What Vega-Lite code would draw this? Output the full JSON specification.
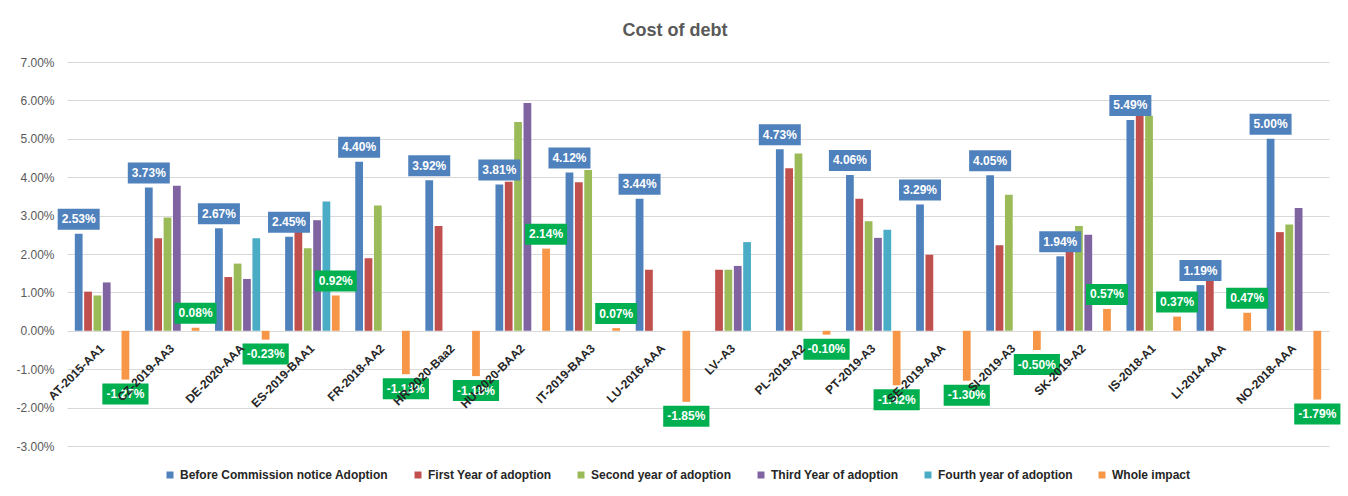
{
  "$schema": "https://vega.github.io/schema/vega-lite/v6.json",
  "autosize": "none",
  "width": 1262,
  "height": 384,
  "padding": {"left": 67, "top": 62, "right": 19, "bottom": 50},
  "background": "white",
  "config": {"font": "Liberation Sans", "view": {"stroke": null},
    "locale": {"number": {"decimal": ".", "thousands": ",", "grouping": [3], "currency": ["$", ""], "minus": "-"}}},
  "title": {"text": "Cost of debt", "anchor": "middle", "dx": -23, "fontSize": 18, "fontWeight": "bold", "color": "#595959", "offset": 16},
  "data": {"values": [
    {"country": "AT-2015-AA1", "series": "Before Commission notice Adoption", "value": 0.0253},
    {"country": "AT-2015-AA1", "series": "First Year of adoption", "value": 0.0102},
    {"country": "AT-2015-AA1", "series": "Second year of adoption", "value": 0.0092},
    {"country": "AT-2015-AA1", "series": "Third Year of adoption", "value": 0.0126},
    {"country": "AT-2015-AA1", "series": "Whole impact", "value": -0.0127},
    {"country": "CZ-2019-AA3", "series": "Before Commission notice Adoption", "value": 0.0373},
    {"country": "CZ-2019-AA3", "series": "First Year of adoption", "value": 0.0241},
    {"country": "CZ-2019-AA3", "series": "Second year of adoption", "value": 0.0295},
    {"country": "CZ-2019-AA3", "series": "Third Year of adoption", "value": 0.0378},
    {"country": "CZ-2019-AA3", "series": "Whole impact", "value": 0.0008},
    {"country": "DE-2020-AAA", "series": "Before Commission notice Adoption", "value": 0.0267},
    {"country": "DE-2020-AAA", "series": "First Year of adoption", "value": 0.0140},
    {"country": "DE-2020-AAA", "series": "Second year of adoption", "value": 0.0175},
    {"country": "DE-2020-AAA", "series": "Third Year of adoption", "value": 0.0135},
    {"country": "DE-2020-AAA", "series": "Fourth year of adoption", "value": 0.0241},
    {"country": "DE-2020-AAA", "series": "Whole impact", "value": -0.0023},
    {"country": "ES-2019-BAA1", "series": "Before Commission notice Adoption", "value": 0.0245},
    {"country": "ES-2019-BAA1", "series": "First Year of adoption", "value": 0.0265},
    {"country": "ES-2019-BAA1", "series": "Second year of adoption", "value": 0.0215},
    {"country": "ES-2019-BAA1", "series": "Third Year of adoption", "value": 0.0288},
    {"country": "ES-2019-BAA1", "series": "Fourth year of adoption", "value": 0.0337},
    {"country": "ES-2019-BAA1", "series": "Whole impact", "value": 0.0092},
    {"country": "FR-2018-AA2", "series": "Before Commission notice Adoption", "value": 0.0440},
    {"country": "FR-2018-AA2", "series": "First Year of adoption", "value": 0.0189},
    {"country": "FR-2018-AA2", "series": "Second year of adoption", "value": 0.0326},
    {"country": "FR-2018-AA2", "series": "Whole impact", "value": -0.0113},
    {"country": "HR-2020-Baa2", "series": "Before Commission notice Adoption", "value": 0.0392},
    {"country": "HR-2020-Baa2", "series": "First Year of adoption", "value": 0.0273},
    {"country": "HR-2020-Baa2", "series": "Whole impact", "value": -0.0118},
    {"country": "HU-2020-BAA2", "series": "Before Commission notice Adoption", "value": 0.0381},
    {"country": "HU-2020-BAA2", "series": "First Year of adoption", "value": 0.0388},
    {"country": "HU-2020-BAA2", "series": "Second year of adoption", "value": 0.0544},
    {"country": "HU-2020-BAA2", "series": "Third Year of adoption", "value": 0.0593},
    {"country": "HU-2020-BAA2", "series": "Whole impact", "value": 0.0214},
    {"country": "IT-2019-BAA3", "series": "Before Commission notice Adoption", "value": 0.0412},
    {"country": "IT-2019-BAA3", "series": "First Year of adoption", "value": 0.0387},
    {"country": "IT-2019-BAA3", "series": "Second year of adoption", "value": 0.0419},
    {"country": "IT-2019-BAA3", "series": "Whole impact", "value": 0.0007},
    {"country": "LU-2016-AAA", "series": "Before Commission notice Adoption", "value": 0.0344},
    {"country": "LU-2016-AAA", "series": "First Year of adoption", "value": 0.0159},
    {"country": "LU-2016-AAA", "series": "Whole impact", "value": -0.0185},
    {"country": "LV--A3", "series": "First Year of adoption", "value": 0.0159},
    {"country": "LV--A3", "series": "Second year of adoption", "value": 0.0159},
    {"country": "LV--A3", "series": "Third Year of adoption", "value": 0.0169},
    {"country": "LV--A3", "series": "Fourth year of adoption", "value": 0.0231},
    {"country": "PL-2019-A2", "series": "Before Commission notice Adoption", "value": 0.0473},
    {"country": "PL-2019-A2", "series": "First Year of adoption", "value": 0.0423},
    {"country": "PL-2019-A2", "series": "Second year of adoption", "value": 0.0462},
    {"country": "PL-2019-A2", "series": "Whole impact", "value": -0.0010},
    {"country": "PT-2019-A3", "series": "Before Commission notice Adoption", "value": 0.0406},
    {"country": "PT-2019-A3", "series": "First Year of adoption", "value": 0.0344},
    {"country": "PT-2019-A3", "series": "Second year of adoption", "value": 0.0285},
    {"country": "PT-2019-A3", "series": "Third Year of adoption", "value": 0.0242},
    {"country": "PT-2019-A3", "series": "Fourth year of adoption", "value": 0.0263},
    {"country": "PT-2019-A3", "series": "Whole impact", "value": -0.0142},
    {"country": "SE-2019-AAA", "series": "Before Commission notice Adoption", "value": 0.0329},
    {"country": "SE-2019-AAA", "series": "First Year of adoption", "value": 0.0198},
    {"country": "SE-2019-AAA", "series": "Whole impact", "value": -0.0130},
    {"country": "SI-2019-A3", "series": "Before Commission notice Adoption", "value": 0.0405},
    {"country": "SI-2019-A3", "series": "First Year of adoption", "value": 0.0223},
    {"country": "SI-2019-A3", "series": "Second year of adoption", "value": 0.0354},
    {"country": "SI-2019-A3", "series": "Whole impact", "value": -0.0050},
    {"country": "SK-2019-A2", "series": "Before Commission notice Adoption", "value": 0.0194},
    {"country": "SK-2019-A2", "series": "First Year of adoption", "value": 0.0215},
    {"country": "SK-2019-A2", "series": "Second year of adoption", "value": 0.0273},
    {"country": "SK-2019-A2", "series": "Third Year of adoption", "value": 0.0250},
    {"country": "SK-2019-A2", "series": "Whole impact", "value": 0.0057},
    {"country": "IS-2018-A1", "series": "Before Commission notice Adoption", "value": 0.0549},
    {"country": "IS-2018-A1", "series": "First Year of adoption", "value": 0.0575},
    {"country": "IS-2018-A1", "series": "Second year of adoption", "value": 0.0560},
    {"country": "IS-2018-A1", "series": "Whole impact", "value": 0.0037},
    {"country": "LI-2014-AAA", "series": "Before Commission notice Adoption", "value": 0.0119},
    {"country": "LI-2014-AAA", "series": "First Year of adoption", "value": 0.0140},
    {"country": "LI-2014-AAA", "series": "Whole impact", "value": 0.0047},
    {"country": "NO-2018-AAA", "series": "Before Commission notice Adoption", "value": 0.0500},
    {"country": "NO-2018-AAA", "series": "First Year of adoption", "value": 0.0257},
    {"country": "NO-2018-AAA", "series": "Second year of adoption", "value": 0.0277},
    {"country": "NO-2018-AAA", "series": "Third Year of adoption", "value": 0.0320},
    {"country": "NO-2018-AAA", "series": "Whole impact", "value": -0.0179}
  ]},
  "encoding": {
    "x": {"field": "country", "type": "nominal", "axis": null,
      "scale": {"domain": ["AT-2015-AA1","CZ-2019-AA3","DE-2020-AAA","ES-2019-BAA1","FR-2018-AA2","HR-2020-Baa2","HU-2020-BAA2","IT-2019-BAA3","LU-2016-AAA","LV--A3","PL-2019-A2","PT-2019-A3","SE-2019-AAA","SI-2019-A3","SK-2019-A2","IS-2018-A1","LI-2014-AAA","NO-2018-AAA"], "paddingInner": 0.2, "paddingOuter": 0.1}},
    "y": {"field": "value", "type": "quantitative",
      "scale": {"domain": [-0.03, 0.07], "nice": false, "zero": false},
      "axis": {"title": null, "format": ".2%", "values": [-0.03,-0.02,-0.01,0,0.01,0.02,0.03,0.04,0.05,0.06,0.07], "domain": false, "ticks": false, "labelPadding": 13, "labelFontSize": 12, "labelColor": "#595959", "gridColor": "#D9D9D9", "gridWidth": 1}}
  },
  "layer": [
    {
      "mark": {"type": "bar"},
      "encoding": {
        "xOffset": {"field": "series", "type": "nominal",
          "scale": {"domain": ["Before Commission notice Adoption","First Year of adoption","Second year of adoption","Third Year of adoption","Fourth year of adoption","Whole impact"], "paddingInner": 0.17, "paddingOuter": 0.085}},
        "color": {"field": "series", "type": "nominal",
          "scale": {"domain": ["Before Commission notice Adoption","First Year of adoption","Second year of adoption","Third Year of adoption","Fourth year of adoption","Whole impact"], "range": ["#4F81BD","#C0504D","#9BBB59","#8064A2","#4BACC6","#F79646"]},
          "legend": {"title": null, "orient": "none", "legendX": 97, "legendY": 407, "direction": "horizontal", "symbolType": "square", "symbolSize": 49, "symbolStrokeWidth": 0, "labelFontSize": 12, "labelFontWeight": "bold", "labelColor": "#262626", "labelLimit": 400, "columnPadding": 23, "labelOffset": 4, "padding": 0}}
      }
    },
    {
      "transform": [{"filter": "datum.series === 'Before Commission notice Adoption'"}],
      "mark": {"type": "point", "filled": true, "opacity": 1, "strokeWidth": 0, "size": 1764, "shape": "M-1,-1.19H1V-0.19H-1Z", "color": "#4F81BD"},
      "encoding": {"xOffset": {"field": "series", "type": "nominal"}}
    },
    {
      "transform": [{"filter": "datum.series === 'Whole impact' && datum.value >= 0"}],
      "mark": {"type": "point", "filled": true, "opacity": 1, "strokeWidth": 0, "size": 1764, "shape": "M-1,-1.19H1V-0.19H-1Z", "color": "#00B050"},
      "encoding": {"xOffset": {"field": "series", "type": "nominal"}}
    },
    {
      "transform": [{"filter": "datum.series === 'Whole impact' && datum.value < 0"}],
      "mark": {"type": "point", "filled": true, "opacity": 1, "strokeWidth": 0, "size": 1764, "shape": "M-1.1,0.19H1.1V1.19H-1.1Z", "color": "#00B050"},
      "encoding": {"xOffset": {"field": "series", "type": "nominal"}}
    },
    {
      "transform": [{"filter": "datum.series === 'Before Commission notice Adoption' || (datum.series === 'Whole impact' && datum.value >= 0)"}],
      "mark": {"type": "text", "dy": -14.5, "baseline": "middle", "align": "center", "fontSize": 12, "fontWeight": "bold", "color": "white"},
      "encoding": {"xOffset": {"field": "series", "type": "nominal"}, "text": {"field": "value", "type": "quantitative", "format": ".2%"}}
    },
    {
      "transform": [{"filter": "datum.series === 'Whole impact' && datum.value < 0"}],
      "mark": {"type": "text", "dy": 14.5, "baseline": "middle", "align": "center", "fontSize": 12, "fontWeight": "bold", "color": "white"},
      "encoding": {"xOffset": {"field": "series", "type": "nominal"}, "text": {"field": "value", "type": "quantitative", "format": ".2%"}}
    },
    {
      "transform": [{"filter": "datum.series === 'First Year of adoption'"}],
      "mark": {"type": "text", "angle": -45, "align": "right", "baseline": "middle", "dx": -11, "dy": 11, "fontSize": 12, "fontWeight": "bold", "color": "#262626"},
      "encoding": {"y": {"datum": 0, "type": "quantitative"}, "text": {"field": "country", "type": "nominal"}}
    }
  ]
}
